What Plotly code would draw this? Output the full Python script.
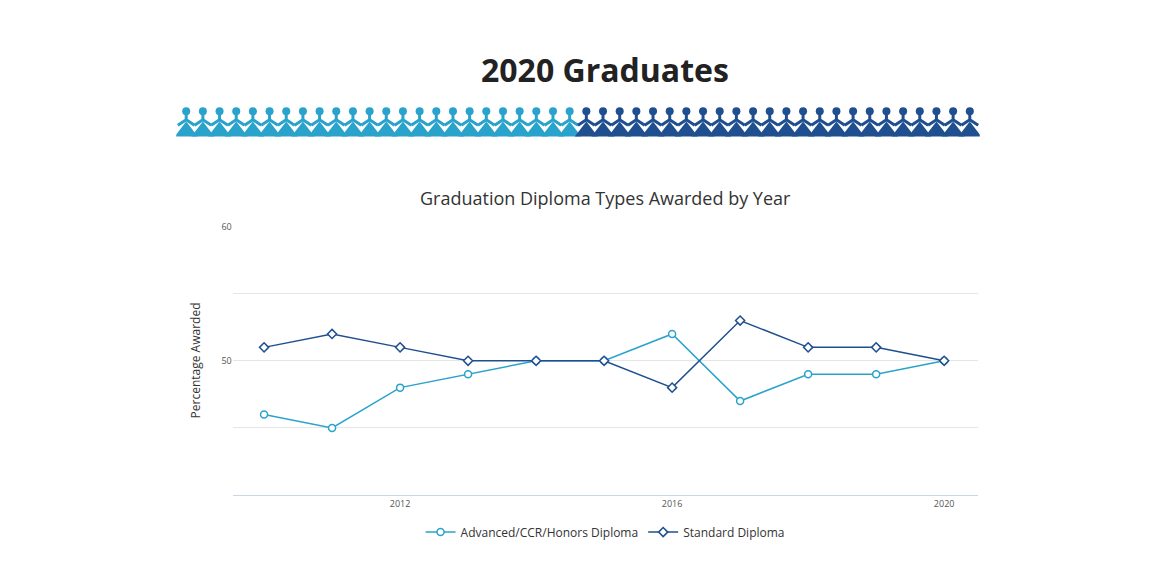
import plotly.graph_objects as go

years = list(range(2010, 2021))
advanced = [46, 45, 48, 49, 50, 50, 52, 47, 49, 49, 50]
standard = [51, 52, 51, 50, 50, 50, 48, 53, 51, 51, 50]

LIGHT = "#2aa3cc"
DARK = "#1f4f8f"

# decorative row of graduates
n_grads = 48
grad_x = list(range(n_grads))
grad_colors = [LIGHT if i < n_grads // 2 else DARK for i in grad_x]

fig = go.Figure()
fig.add_trace(go.Scatter(x=years, y=advanced, name="Advanced/CCR/Honors Diploma",
                         mode="lines+markers", line=dict(color=LIGHT, width=1.5),
                         marker=dict(symbol="circle", size=7, color="white",
                                     line=dict(color=LIGHT, width=1.5))))
fig.add_trace(go.Scatter(x=years, y=standard, name="Standard Diploma",
                         mode="lines+markers", line=dict(color=DARK, width=1.5),
                         marker=dict(symbol="diamond", size=7, color="white",
                                     line=dict(color=DARK, width=1.5))))

# graduate silhouettes: gown, arms, head
fig.add_trace(go.Scatter(x=grad_x, y=[0] * n_grads, xaxis="x2", yaxis="y2", mode="markers",
                         marker=dict(symbol="triangle-up", size=20, color=grad_colors),
                         showlegend=False, hoverinfo="skip"))
fig.add_trace(go.Scatter(x=grad_x, y=[0.5] * n_grads, xaxis="x2", yaxis="y2", mode="markers",
                         marker=dict(symbol="y-up", size=14, color=grad_colors,
                                     line=dict(color=grad_colors, width=3)),
                         showlegend=False, hoverinfo="skip"))
fig.add_trace(go.Scatter(x=grad_x, y=[0.85] * n_grads, xaxis="x2", yaxis="y2", mode="markers",
                         marker=dict(symbol="circle", size=8, color=grad_colors),
                         showlegend=False, hoverinfo="skip"))

fig.update_layout(
    width=1160, height=580,
    margin=dict(l=160, r=180, t=40, b=93, autoexpand=False),
    paper_bgcolor="white", plot_bgcolor="white",
    font=dict(family="Open Sans", color="#333"),
    xaxis=dict(domain=[0.079, 0.988], range=[2009.54, 2020.5],
               tickvals=[2012, 2016, 2020], showgrid=False,
               showline=True, linecolor="#ccd6eb", ticks="outside", ticklen=0,
               tickfont=dict(size=9, color="#555")),
    yaxis=dict(domain=[0, 0.602], range=[40, 60.05], tickvals=[50, 60],
               showgrid=True, gridcolor="#e6e6e6", zeroline=False,
               minor=dict(dtick=5, showgrid=True, gridcolor="#e6e6e6"),
               tickfont=dict(size=9, color="#555"),
               title=dict(text="Percentage Awarded", font=dict(size=12, color="#333"),
                          standoff=18)),
    xaxis2=dict(domain=[0.01, 0.99], range=[-0.6, n_grads - 0.4], visible=False,
                anchor="y2"),
    yaxis2=dict(domain=[0.765, 0.877], range=[-0.9, 1.2], visible=False, anchor="x2"),
    legend=dict(orientation="h", x=0.533, xanchor="center", y=-0.083, yanchor="middle",
                font=dict(size=12, color="#333")),
    annotations=[
        dict(text="<b>2020 Graduates</b>", xref="paper", yref="paper", x=0.533, y=0.951,
             yanchor="middle", showarrow=False,
             font=dict(size=32, color="#222", family="Open Sans")),
        dict(text="Graduation Diploma Types Awarded by Year", xref="paper", yref="paper",
             x=0.533, y=0.664, yanchor="middle", showarrow=False,
             font=dict(size=18, color="#333")),
    ],
)

fig.write_html("out.html")
